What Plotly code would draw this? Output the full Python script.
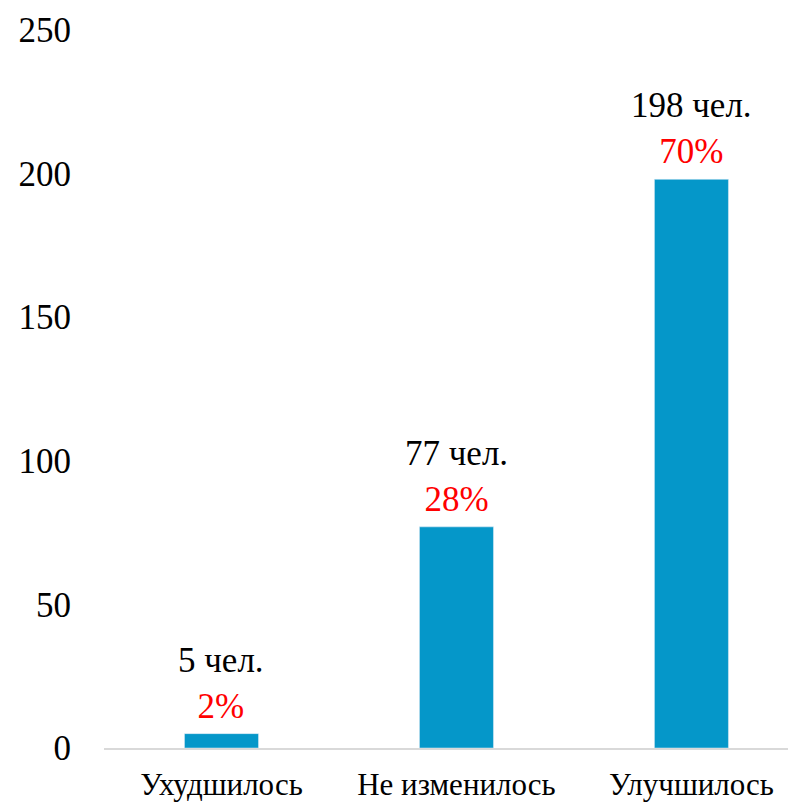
import plotly.graph_objects as go

categories = ['Ухудшилось', 'Не изменилось', 'Улучшилось']
counts = [5, 77, 198]
percents = ['2%', '28%', '70%']
tick_values = [0, 50, 100, 150, 200, 250]

bar_color = '#0597C9'
font_family = '"Liberation Serif", "DejaVu Serif", serif'

fig = go.Figure()
fig.add_trace(go.Bar(
    x=categories,
    y=counts,
    width=0.315,
    marker_color=bar_color,
))

# two-line labels above bars: count in black, share in red
for cat, c, p in zip(categories, counts, percents):
    fig.add_annotation(
        x=cat,
        y=c,
        text=f"{c} чел.<br><span style='color:#FF0000'>{p}</span>",
        showarrow=False,
        yanchor='bottom',
        yshift=6,
        font=dict(family=font_family, size=35, color='black'),
    )

# the page has an 8px body margin, so the figure is 8px smaller each way
fig.update_xaxes(
    range=[-0.5, 2.445],
    showline=True,
    linecolor='#D9D9D9',
    linewidth=2,
    showgrid=False,
    ticks='',
    ticklabelstandoff=8,
    tickfont=dict(family=font_family, size=31, color='black'),
)
fig.update_yaxes(
    range=[0, 250],
    tickvals=tick_values,
    showgrid=False,
    zeroline=False,
    showline=False,
    ticklabelstandoff=32,
    tickfont=dict(family=font_family, size=35, color='black'),
)
fig.update_layout(
    width=788,
    height=795,
    margin=dict(l=96, r=0, t=22, b=55),
    font=dict(family=font_family),
    plot_bgcolor='white',
    paper_bgcolor='white',
    showlegend=False,
)
fig.write_html("out.html")
